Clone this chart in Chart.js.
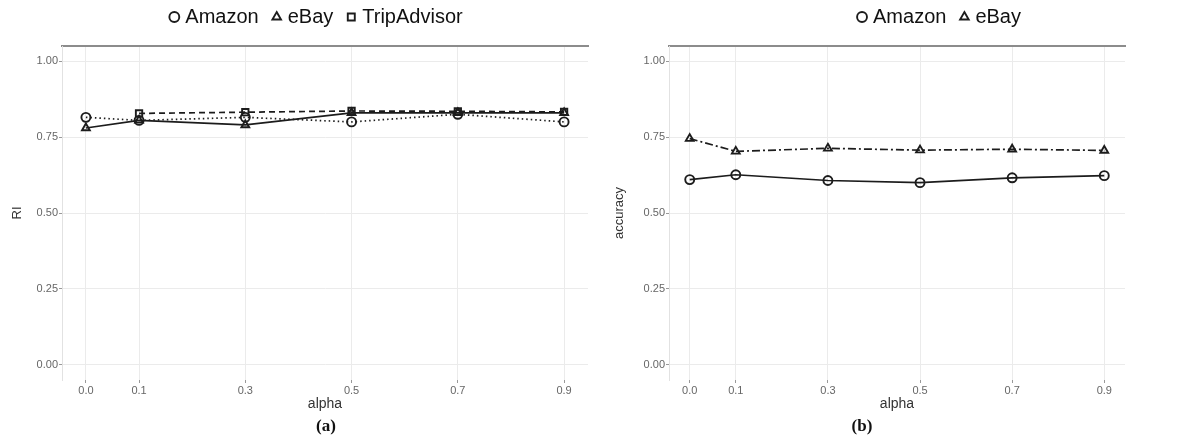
<!DOCTYPE html>
<html>
<head>
<meta charset="utf-8">
<script src="https://cdn.jsdelivr.net/npm/chart.js@4/dist/chart.umd.min.js"></script>
<style>
  html, body { margin: 0; padding: 0; background: #fff; }
  body { width: 1203px; height: 445px; position: relative; overflow: hidden; }
  .panel { position: absolute; top: 0; height: 445px; }
  .caption { position: absolute; top: 416px; width: 60px; margin-left: -30px; text-align: center;
             font: bold 17px 'Liberation Serif', 'DejaVu Serif', serif; color: #111; }
</style>
</head>
<body>
<div class="panel" style="left:0;width:646px"><canvas id="chartA"></canvas></div>
<div class="panel" style="left:600px;width:692px"><canvas id="chartB"></canvas></div>
<div class="caption" style="left:326px">(a)</div>
<div class="caption" style="left:862px">(b)</div>
<script>
// values
const alphaValues = [0.0, 0.1, 0.3, 0.5, 0.7, 0.9];
const yTicks = [0, 0.25, 0.5, 0.75, 1.0];

// (a) RI
const riAmazon = [0.815, 0.805, 0.815, 0.80, 0.825, 0.80];
const riEbay = [0.78, 0.805, 0.79, 0.83, 0.83, 0.83];
const riTrip = [null, 0.828, 0.832, 0.836, 0.835, 0.833];

// (b) accuracy
const accAmazon = [0.61, 0.626, 0.607, 0.60, 0.616, 0.623];
const accEbay = [0.745, 0.703, 0.713, 0.707, 0.71, 0.706];

Chart.defaults.font.family = "'Liberation Sans', Arial, sans-serif";
Chart.defaults.color = '#555';

const ink = '#1c1c1c';

function series(label, values, pointStyle, dash) {
    return {
        label,
        data: alphaValues.map((a, i) => ({ x: a, y: values[i] })),
        borderColor: ink,
        backgroundColor: 'rgba(255,255,255,0)',
        borderWidth: 1.7,
        borderDash: dash,
        pointStyle,
        pointRadius: 4.5,
        pointBorderWidth: 1.9,
        pointBorderColor: ink,
        pointBackgroundColor: 'rgba(255,255,255,0)',
        spanGaps: false,
        tension: 0
    };
}

// legend items get an en space after the name so the keys sit apart like in ggplot
function spacedLabels(chart) {
    const items = Chart.defaults.plugins.legend.labels.generateLabels(chart);
    items.forEach(it => { it.text = it.text + '\u2002'; });
    return items;
}

// yWidth: room for y labels + title; rightGap: blank strip that shifts the legend centre
function makePanel(id, datasets, yTitle, yWidth, titleOffset, rightGap) {
    const xMin = -0.045, xMax = 0.945;
    return new Chart(document.getElementById(id), {
        type: 'line',
        data: { datasets },
        options: {
            responsive: true,
            maintainAspectRatio: false,
            animation: false,
            layout: { padding: { left: 0, right: 0, top: 0, bottom: 28 } },
            plugins: {
                legend: {
                    position: 'top',
                    labels: {
                        usePointStyle: true,
                        boxWidth: 2,
                        boxHeight: 7,
                        padding: 7,
                        color: '#111',
                        font: { size: 20 },
                        generateLabels: spacedLabels
                    }
                },
                tooltip: { enabled: false }
            },
            scales: {
                x: {
                    type: 'linear',
                    min: xMin,
                    max: xMax,
                    afterBuildTicks: s => { s.ticks = alphaValues.map(v => ({ value: v })); },
                    afterFit: s => { s.height = 37; },
                    ticks: { callback: v => v.toFixed(1), font: { size: 11 }, color: '#666', padding: 1, maxRotation: 0 },
                    grid: { color: '#ebebeb', tickColor: '#999', tickLength: 3 },
                    border: { display: false },
                    title: { display: true, text: 'alpha', color: '#333', font: { size: 14 }, padding: { top: 0, bottom: 4 } }
                },
                xTop: {
                    type: 'linear',
                    position: 'top',
                    min: xMin,
                    max: xMax,
                    ticks: { display: false },
                    grid: { display: false },
                    border: { display: true, color: '#8c8c8c', width: 2 },
                    afterFit: s => { s.height = 9; }
                },
                y: {
                    min: -0.05,
                    max: 1.05,
                    afterBuildTicks: s => { s.ticks = yTicks.map(v => ({ value: v })); },
                    afterFit: s => { s.width = yWidth; },
                    ticks: { callback: v => v.toFixed(2), font: { size: 11 }, color: '#666', padding: 1 },
                    grid: { color: '#ebebeb', tickColor: '#999', tickLength: 3 },
                    border: { display: true, color: '#e2e2e2' },
                    title: { display: true, text: yTitle, color: '#333', font: { size: 13 }, padding: { top: titleOffset, bottom: 0 } }
                },
                gap: {
                    type: 'linear',
                    position: 'right',
                    ticks: { display: false },
                    grid: { display: false },
                    border: { display: false },
                    afterFit: s => { s.width = rightGap; }
                }
            }
        }
    });
}

makePanel('chartA', [
    series('Amazon', riAmazon, 'circle', [1.5, 3]),
    series('eBay', riEbay, 'triangle', []),
    series('TripAdvisor', riTrip, 'rect', [6, 4])
], 'RI', 62, 10, 646 - 588);

makePanel('chartB', [
    series('Amazon', accAmazon, 'circle', []),
    series('eBay', accEbay, 'triangle', [8, 3, 2, 3])
], 'accuracy', 69, 12, 692 - 525);
</script>
</body>
</html>
